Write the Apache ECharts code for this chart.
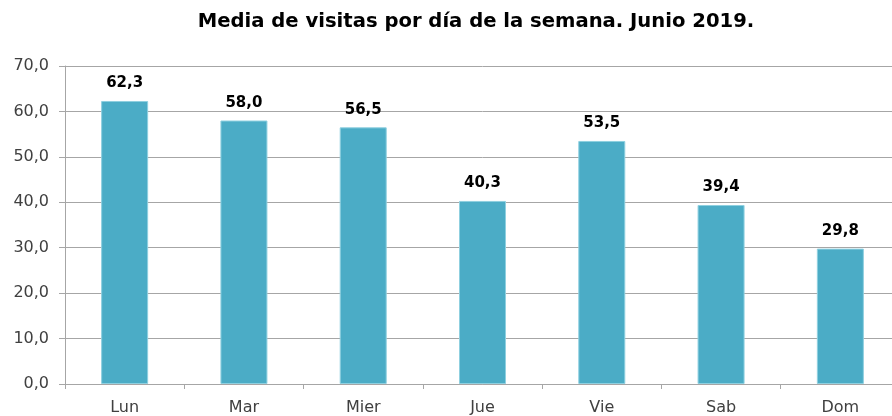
<!DOCTYPE html>
<html><head><meta charset="utf-8">
<script src="https://cdn.jsdelivr.net/npm/echarts@6/dist/echarts.min.js"></script>
<style>html,body{margin:0;padding:0;background:#fff;overflow:hidden;width:892px;height:416px}#c{width:900px;height:416px}</style>
</head><body><div id="c"></div>
<script>
const categories = ['Lun','Mar','Mier','Jue','Vie','Sab','Dom'];
const values = [62.3, 58.0, 56.5, 40.3, 53.5, 39.4, 29.8];
const titleText = 'Media de visitas por día de la semana. Junio 2019.';
const fmt = v => v.toFixed(1).replace('.', ',');
const FONT = 'DejaVu Sans';
const chart = echarts.init(document.getElementById('c'));
chart.setOption({
  animation: false,
  title: {text: titleText, left: 471, textAlign: 'center', top: 7,
    textStyle: {fontFamily: FONT, fontWeight: 'bold', fontSize: 19.6, color: '#000'}},
  grid: {left: 65, right: 0, top: 66, bottom: 32, containLabel: false},
  xAxis: {type: 'category', data: categories,
    axisLine: {lineStyle: {color: '#a6a6a6'}},
    axisTick: {show: true, length: 5, lineStyle: {color: '#a6a6a6'}},
    axisLabel: {color: '#404040', fontFamily: FONT, fontSize: 16, margin: 16}},
  yAxis: {type: 'value', min: 0, max: 70, interval: 10,
    axisLine: {show: true, lineStyle: {color: '#a6a6a6'}},
    axisTick: {show: true, length: 6, lineStyle: {color: '#a6a6a6'}},
    splitLine: {lineStyle: {color: '#a6a6a6'}},
    axisLabel: {color: '#404040', fontFamily: FONT, fontSize: 16, margin: 16, formatter: v => fmt(v)}},
  series: [{type: 'bar', data: values, barWidth: 47,
    itemStyle: {color: '#4BACC6', borderColor: '#8fd0e0', borderWidth: 1},
    label: {show: true, position: 'top', distance: 10, color: '#000', fontFamily: FONT, fontWeight: 'bold', fontSize: 15,
      formatter: p => fmt(p.value)}}]
});
</script></body></html>
